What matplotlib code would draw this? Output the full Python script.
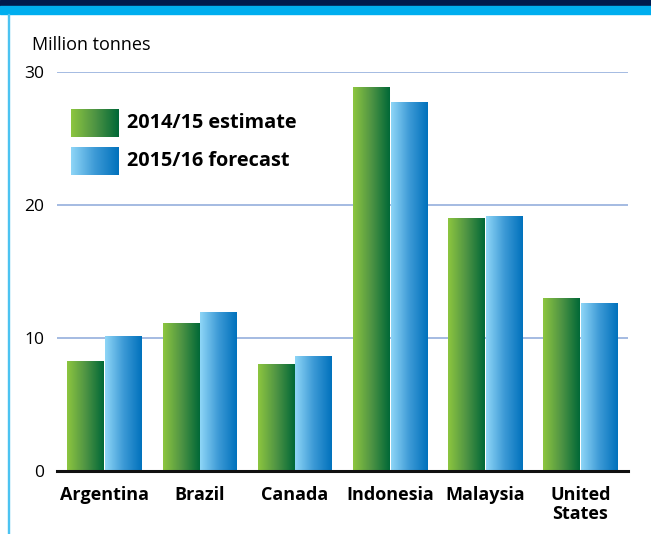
import numpy as np
import matplotlib
matplotlib.use("Agg")
import matplotlib.pyplot as plt
from matplotlib.colors import LinearSegmentedColormap
from matplotlib.patches import Rectangle

plt.rcParams['font.family'] = ['Open Sans', 'DejaVu Sans']

countries = ["Argentina", "Brazil", "Canada", "Indonesia", "Malaysia", "United\nStates"]
estimate_2014_15 = [8.2, 11.1, 8.0, 28.8, 19.0, 13.0]
forecast_2015_16 = [10.1, 11.9, 8.6, 27.7, 19.1, 12.6]
series_labels = ["2014/15 estimate", "2015/16 forecast"]
y_ticks = [0, 10, 20, 30]

green_cmap = LinearSegmentedColormap.from_list("g", ["#8dc63f", "#4f9444", "#006837"])
blue_cmap = LinearSegmentedColormap.from_list("b", ["#8fd6f7", "#3d9ad6", "#0071bc"])
grad = np.linspace(0, 1, 256).reshape(1, -1)

W, H = 651, 534
fig = plt.figure(figsize=(W / 100, H / 100), dpi=100)

# Header bands and left rule
fig.patches.append(Rectangle((0, 1 - 6 / H), 1, 6 / H, transform=fig.transFigure,
                             color="#001a4d", zorder=0))
fig.patches.append(Rectangle((0, 1 - 14 / H), 1, 8 / H, transform=fig.transFigure,
                             color="#00aeef", zorder=0))
fig.patches.append(Rectangle((7.5 / W, 0), 1.5 / W, 1 - 14 / H, transform=fig.transFigure,
                             color="#4cc3f1", zorder=0))

ax = fig.add_axes([57 / W, 1 - 471 / H, (628 - 57) / W, (471 - 72) / H])
ax.set_xlim(-0.5, len(countries) - 0.5)
ax.set_ylim(0, 30)

x = np.arange(len(countries))
w = 0.385
gap = 0.012
bars_g = ax.bar(x - w / 2 - gap / 2, estimate_2014_15, width=w, color="none", zorder=3)
bars_b = ax.bar(x + w / 2 + gap / 2, forecast_2015_16, width=w, color="none", zorder=3)

for bars, cmap in ((bars_g, green_cmap), (bars_b, blue_cmap)):
    for b in bars:
        x0, y0 = b.get_x(), b.get_y()
        ax.imshow(grad, cmap=cmap, aspect="auto", interpolation="bilinear",
                  extent=[x0, x0 + b.get_width(), y0, y0 + b.get_height()], zorder=3)

ax.set_xlim(-0.5, len(countries) - 0.5)
ax.set_ylim(0, 30)

for v in y_ticks[1:]:
    ax.axhline(v, color="#9db5df", lw=1.3, zorder=1)
ax.axhline(0, color="#111111", lw=2.2, zorder=4, clip_on=False)

for s in ax.spines.values():
    s.set_visible(False)
ax.set_yticks(y_ticks)
ax.set_yticklabels([str(v) for v in y_ticks], fontsize=12.5)
ax.tick_params(axis="y", length=0, pad=9)
ax.set_xticks(x)
ax.set_xticklabels(countries, fontsize=13, fontweight="bold", linespacing=1.05)
ax.tick_params(axis="x", length=0, pad=11)

fig.text(32 / W, 1 - 45 / H, "Million tonnes", fontsize=13, va="center", ha="left")

# Legend with gradient swatches
for i, (label, cmap) in enumerate(zip(series_labels, (green_cmap, blue_cmap))):
    top = 109 + i * 38
    sw = fig.add_axes([71 / W, 1 - (top + 28) / H, 48 / W, 28 / H])
    sw.imshow(grad, cmap=cmap, aspect="auto", interpolation="bilinear")
    sw.axis("off")
    fig.text(127 / W, 1 - (top + 14) / H, label, fontsize=14.3, fontweight="bold",
             va="center", ha="left")

fig.savefig("out.png", dpi=100)
